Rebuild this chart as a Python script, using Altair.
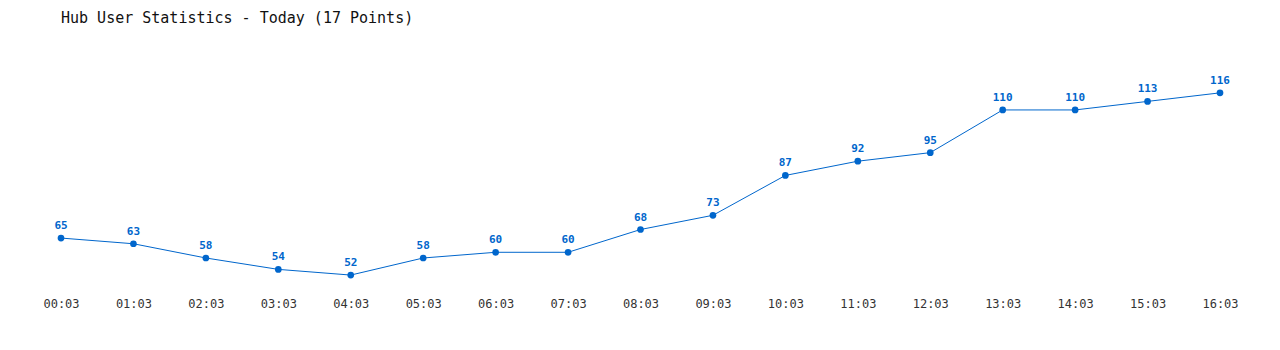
import altair as alt
import pandas as pd

times = ["00:03", "01:03", "02:03", "03:03", "04:03", "05:03", "06:03", "07:03", "08:03",
         "09:03", "10:03", "11:03", "12:03", "13:03", "14:03", "15:03", "16:03"]
users = [65, 63, 58, 54, 52, 58, 60, 60, 68, 73, 87, 92, 95, 110, 110, 113, 116]

df = pd.DataFrame({"time": times, "users": users})

BLUE = "#0066cc"
MONO = "DejaVu Sans Mono"

x = alt.X("time:N", sort=times,
          scale=alt.Scale(type="point", padding=0),
          axis=alt.Axis(title=None, labelAngle=0, domain=False, ticks=False, grid=False,
                        labelFont=MONO, labelFontSize=12, labelColor="#333333",
                        labelPadding=3))
y = alt.Y("users:Q", scale=alt.Scale(domain=[45, 130], nice=False, zero=False), axis=None)

base = alt.Chart(df).encode(x=x, y=y)

line = base.mark_line(color=BLUE, strokeWidth=1)
pts = base.mark_point(filled=True, color=BLUE, size=45, opacity=1)
labels = base.mark_text(color=BLUE, font=MONO, fontSize=11, fontWeight="bold",
                        dy=-12, baseline="middle").encode(text="users:Q")

chart = (line + pts + labels).properties(
    width=1159, height=242,
    background="white",
    autosize=alt.AutoSizeParams(type="none"),
    padding={"left": 61, "top": 53, "right": 60, "bottom": 55},
    title=alt.TitleParams("Hub User Statistics - Today (17 Points)", anchor="start",
                          frame="group",
                          font=MONO, fontSize=15, fontWeight="normal", color="#111111",
                          offset=27),
).configure_view(strokeWidth=0, stroke="transparent")

chart.save("out.html", embed_options={"renderer": "svg", "actions": False})
